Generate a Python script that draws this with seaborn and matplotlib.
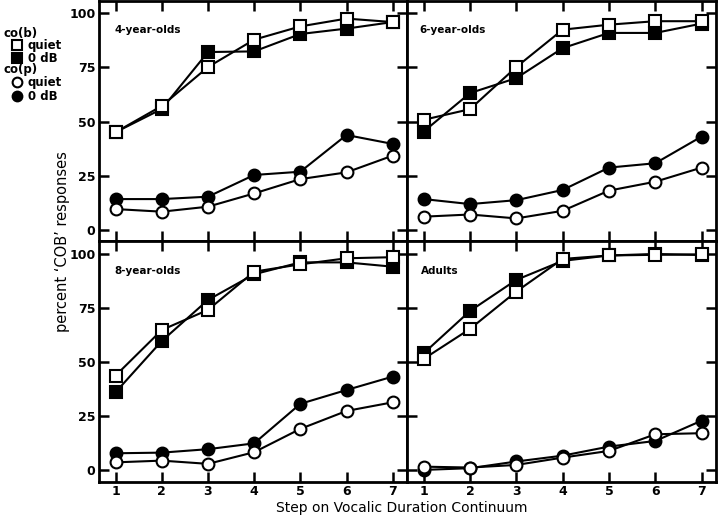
import matplotlib
matplotlib.use("Agg")
import matplotlib.pyplot as plt
from matplotlib.lines import Line2D
import seaborn as sns
import pandas as pd

sns.set_theme(style="white")
plt.rcParams['font.family'] = ['DejaVu Sans']
plt.rcParams['text.color'] = 'black'
plt.rcParams['axes.labelcolor'] = 'black'
plt.rcParams['xtick.color'] = 'black'
plt.rcParams['ytick.color'] = 'black'

steps = [1, 2, 3, 4, 5, 6, 7]
panels = ["4-year-olds", "6-year-olds", "8-year-olds", "Adults"]

cob_quiet = {
    "4-year-olds": [45.1, 57.2, 75.1, 87.7, 93.8, 97.4, 95.8],
    "6-year-olds": [50.8, 55.7, 75.1, 92.3, 94.6, 96.2, 96.2],
    "8-year-olds": [43.7, 64.8, 74.1, 91.8, 95.2, 98.0, 98.5],
    "Adults":      [51.4, 65.3, 82.6, 97.7, 99.3, 99.6, 99.8],
}
cob_0db = {
    "4-year-olds": [45.1, 55.8, 82.0, 82.3, 90.3, 92.8, 95.8],
    "6-year-olds": [45.4, 63.1, 70.0, 83.8, 90.8, 90.8, 95.1],
    "8-year-olds": [36.0, 59.7, 78.7, 90.6, 96.1, 96.1, 94.1],
    "Adults":      [54.0, 73.6, 88.0, 96.8, 99.3, 100.0, 99.5],
}
cop_quiet = {
    "4-year-olds": [9.7, 8.5, 10.8, 16.9, 23.5, 26.6, 34.3],
    "6-year-olds": [6.2, 7.2, 5.4, 8.9, 18.2, 22.3, 28.8],
    "8-year-olds": [3.5, 4.3, 2.8, 8.2, 19.0, 27.3, 31.3],
    "Adults":      [1.5, 1.1, 2.3, 5.7, 8.8, 16.5, 17.0],
}
cop_0db = {
    "4-year-olds": [14.3, 14.3, 15.4, 25.4, 26.9, 43.8, 39.7],
    "6-year-olds": [14.3, 12.0, 13.8, 18.5, 28.8, 30.8, 43.1],
    "8-year-olds": [7.7, 8.0, 9.6, 12.3, 30.6, 37.0, 43.2],
    "Adults":      [0.0, 0.8, 3.9, 6.6, 10.8, 13.4, 22.8],
}
yticks = [0, 25, 50, 75, 100]
xticklabels = ["1", "2", "3", "4", "5", "6", "7"]

W, H = 718, 516
fig = plt.figure(figsize=(W / 100, H / 100), dpi=100)

def rect(x0, y0, x1, y1):
    return [x0 / W, 1 - y1 / H, (x1 - x0) / W, (y1 - y0) / H]

rects = [rect(99, 1, 407, 241), rect(407, 1, 716, 241),
         rect(99, 241, 407, 482), rect(407, 241, 716, 482)]
ylims = [(-5, 105.5), (-5, 105.5), (-5.6, 106), (-5.6, 106)]
label_pos = [(0.05, 0.88), (0.04, 0.88), (0.05, 0.875), (0.045, 0.875)]

series = [
    (cob_0db, 's', 'black'),
    (cob_quiet, 's', 'white'),
    (cop_0db, 'o', 'black'),
    (cop_quiet, 'o', 'white'),
]

for i, name in enumerate(panels):
    ax = fig.add_axes(rects[i])
    for data, mk, fc in series:
        df = pd.DataFrame({"step": steps, "val": data[name]})
        sns.lineplot(data=df, x="step", y="val", ax=ax, color="black",
                     linewidth=1.5, marker=mk, markersize=8.5,
                     markerfacecolor=fc, markeredgecolor="black",
                     markeredgewidth=1.5, legend=False)
    ax.set_xlim(0.64, 7.31)
    ax.set_ylim(*ylims[i])
    ax.set_xticks(steps)
    ax.set_yticks(yticks)
    ax.set_xlabel("")
    ax.set_ylabel("")
    ax.tick_params(direction='in', length=7, width=1.8, top=True, right=True,
                   bottom=True, left=True, colors='black',
                   labelsize=9, pad=2.5)
    if i >= 2:
        ax.set_xticklabels(xticklabels, fontweight='bold')
    else:
        ax.set_xticklabels([])
    if i % 2 == 0:
        ax.set_yticklabels([str(t) for t in yticks], fontweight='bold')
    else:
        ax.set_yticklabels([])
    for s in ax.spines.values():
        s.set_linewidth(2)
        s.set_color('black')
    ax.text(label_pos[i][0], label_pos[i][1], name, transform=ax.transAxes,
            fontsize=7.5, fontweight='bold', ha='left', va='center')

fig.text(63 / W, 1 - 242 / H, "percent \u2018COB\u2019 responses", rotation=90,
         ha='center', va='center', fontsize=10.5)
fig.text(402 / W, 1 - 508 / H, "Step on Vocalic Duration Continuum",
         ha='center', va='center', fontsize=10)

# legend
leg_items = [
    ("co(b)", None, None, 33),
    ("quiet", 's', 'white', 45),
    ("0 dB", 's', 'black', 58),
    ("co(p)", None, None, 70),
    ("quiet", 'o', 'white', 82),
    ("0 dB", 'o', 'black', 96),
]
for txt, mk, fc, yy in leg_items:
    if mk is None:
        fig.text(3 / W, 1 - yy / H, txt, ha='left', va='center', fontsize=8.5,
                 fontweight='bold')
    else:
        fig.add_artist(Line2D([17 / W], [1 - yy / H], marker=mk, markersize=7,
                              markerfacecolor=fc, markeredgecolor='black',
                              markeredgewidth=1.5, linestyle='none',
                              transform=fig.transFigure))
        fig.text(28 / W, 1 - yy / H, txt, ha='left', va='center', fontsize=8.5,
                 fontweight='bold')

fig.savefig("out.png", dpi=100)
